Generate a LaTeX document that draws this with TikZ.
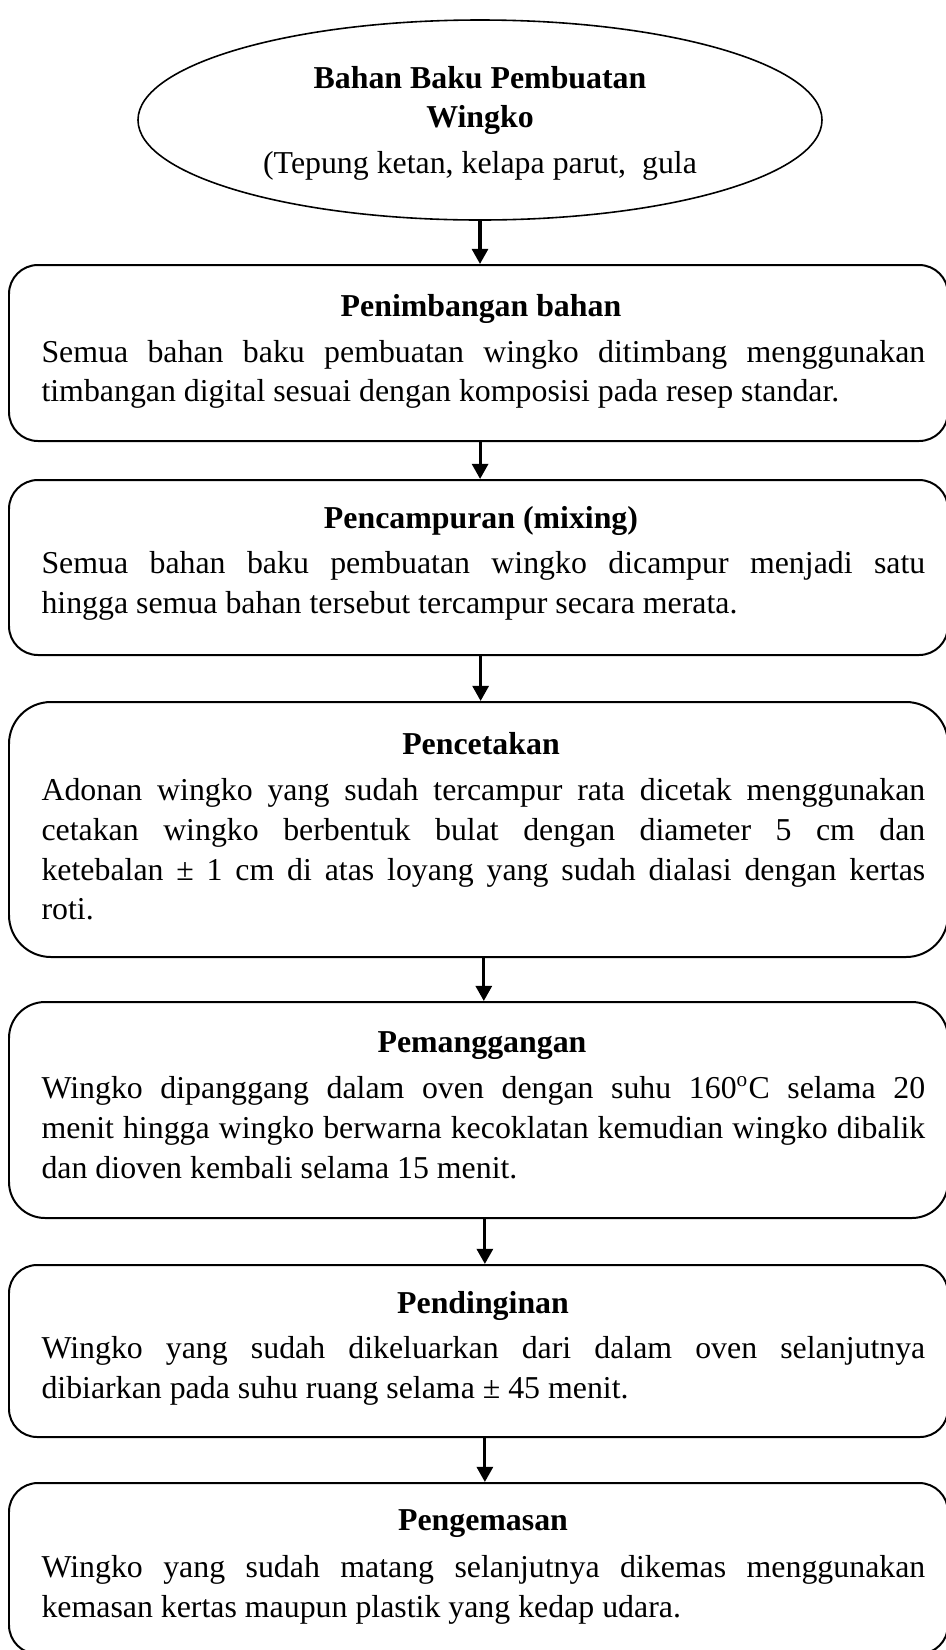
\documentclass[tikz,border=0pt]{standalone}
\usepackage{fontspec}
\setmainfont{Liberation Serif}
\usetikzlibrary{arrows.meta,fit,shapes.geometric}
\newcommand\jl[1]{\makebox[333pt][s]{#1}}
\tikzset{
  stepbox/.style={draw, line width=0.75pt, inner sep=0pt},
  ovalbox/.style={draw, ellipse, line width=0.6pt, inner sep=0pt},
  ttl/.style={anchor=base, inner sep=0pt, font=\fontsize{12}{14}\selectfont\bfseries},
  txt/.style={anchor=base west, inner sep=0pt, font=\fontsize{12}{14}\selectfont},
  ctxt/.style={anchor=base, inner sep=0pt, font=\fontsize{12}{14}\selectfont},
  flow/.style={-{Triangle[width=6pt,length=5.7pt]}, line width=1.2pt},
}
\begin{document}
\begin{tikzpicture}[x=0.3768pt,y=-0.3768pt]
\useasboundingbox (0,0) rectangle (946,1650);
\fill[white] (0,0) rectangle (946,1650);

% ellipse
\node[ovalbox, minimum width=684*0.3768pt, minimum height=200*0.3768pt] (e) at (480,120) {};
\node[ttl] (e1) at (480,88) {Bahan Baku Pembuatan};
\node[ttl] (e2) at (480,127) {Wingko};
\node[ctxt] (e3) at (480,173) {(Tepung ketan, kelapa parut,\ \ gula};

% box 1
\node[stepbox, rounded corners=10.9pt, fit={(9,265)(948,441)}] (b1) {};
\node[ttl] (b1t) at (481,316) {Penimbangan bahan};
\node[txt] (b1a) at (41,362) {\jl{Semua bahan baku pembuatan wingko ditimbang menggunakan}};
\node[txt] (b1b) at (41,401) {timbangan digital sesuai dengan komposisi pada resep standar.};

% box 2
\node[stepbox, rounded corners=10.9pt, fit={(9,480)(948,655)}] (b2) {};
\node[ttl] (b2t) at (481,528) {Pencampuran (mixing)};
\node[txt] (b2a) at (41,573) {\jl{Semua bahan baku pembuatan wingko dicampur menjadi satu}};
\node[txt] (b2b) at (41,613) {hingga semua bahan tersebut tercampur secara merata.};

% box 3
\node[stepbox, rounded corners=15.8pt, fit={(9,702)(948,957)}] (b3) {};
\node[ttl] (b3t) at (481,754) {Pencetakan};
\node[txt] (b3a) at (41,800) {\jl{Adonan wingko yang sudah tercampur rata dicetak menggunakan}};
\node[txt] (b3b) at (41,840) {\jl{cetakan wingko berbentuk bulat dengan diameter 5 cm dan}};
\node[txt] (b3c) at (41,880) {\jl{ketebalan ± 1 cm di atas loyang yang sudah dialasi dengan kertas}};
\node[txt] (b3d) at (41,919) {roti.};

% box 4
\node[stepbox, rounded corners=13.6pt, fit={(9,1002)(948,1218)}] (b4) {};
\node[ttl] (b4t) at (482,1052) {Pemanggangan};
\node[txt] (b4a) at (41,1098) {\jl{Wingko dipanggang dalam oven dengan suhu 160\textsuperscript{o}C selama 20}};
\node[txt] (b4b) at (41,1138) {\jl{menit hingga wingko berwarna kecoklatan kemudian wingko dibalik}};
\node[txt] (b4c) at (41,1178) {dan dioven kembali selama 15 menit.};

% box 5
\node[stepbox, rounded corners=10.6pt, fit={(9,1265)(948,1437)}] (b5) {};
\node[ttl] (b5t) at (483,1313) {Pendinginan};
\node[txt] (b5a) at (41,1358) {\jl{Wingko yang sudah dikeluarkan dari dalam oven selanjutnya}};
\node[txt] (b5b) at (41,1398) {dibiarkan pada suhu ruang selama ± 45 menit.};

% box 6
\node[stepbox, rounded corners=10.9pt, fit={(9,1483)(948,1654)}] (b6) {};
\node[ttl] (b6t) at (483,1530) {Pengemasan};
\node[txt] (b6a) at (41,1577) {\jl{Wingko yang sudah matang selanjutnya dikemas menggunakan}};
\node[txt] (b6b) at (41,1617) {kemasan kertas maupun plastik yang kedap udara.};

% connectors
\draw[flow] (e.south) -- (e.south |- b1.north);
\draw[flow] ([xshift=0.6pt]b1.south) -- ([xshift=0.6pt]b2.north);
\draw[flow] ([xshift=0.8pt]b2.south) -- ([xshift=0.8pt]b3.north);
\draw[flow] ([xshift=2pt]b3.south) -- ([xshift=2pt]b4.north);
\draw[flow] ([xshift=2.4pt]b4.south) -- ([xshift=2.4pt]b5.north);
\draw[flow] ([xshift=2.4pt]b5.south) -- ([xshift=2.4pt]b6.north);
\end{tikzpicture}
\end{document}
